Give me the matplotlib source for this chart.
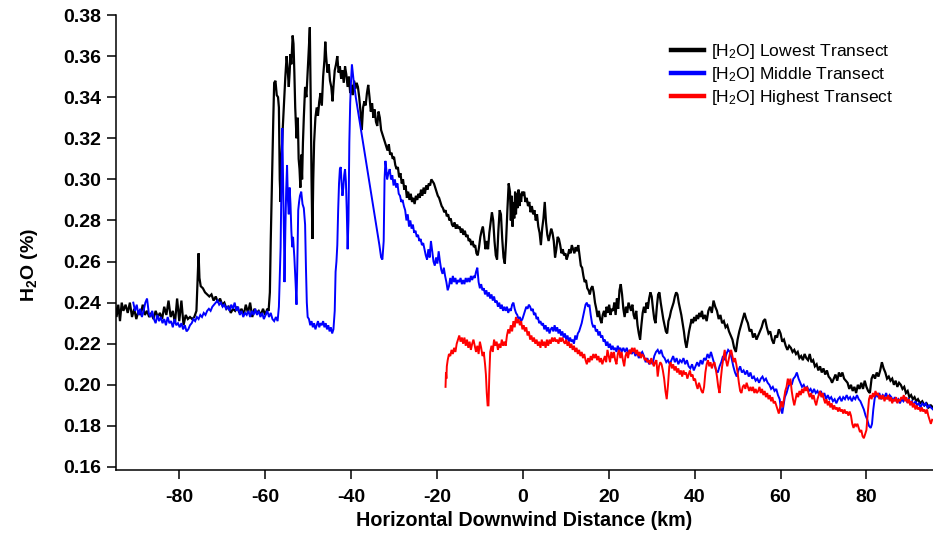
import matplotlib
matplotlib.use("Agg")
import matplotlib.pyplot as plt
from matplotlib.lines import Line2D

plt.rcParams['font.family'] = ['Liberation Sans', 'DejaVu Sans']
plt.rcParams['mathtext.default'] = 'regular'

# ---------------- data ----------------
LOWEST = [
    (-95.0,0.240),(-94.6,0.233),(-94.2,0.239),(-93.8,0.231),(-93.4,0.240),(-93.0,0.236),
    (-92.5,0.239),(-92.0,0.235),(-91.5,0.240),(-91.0,0.233),(-90.5,0.237),(-90.0,0.232),
    (-89.5,0.236),(-89.0,0.234),(-88.5,0.239),(-88.0,0.234),(-87.5,0.236),(-87.0,0.233),
    (-86.5,0.235),(-86.0,0.232),(-85.5,0.236),(-85.0,0.233),(-84.5,0.235),(-84.0,0.232),
    (-83.5,0.238),(-83.0,0.234),(-82.5,0.241),(-82.0,0.233),(-81.5,0.236),(-81.0,0.230),
    (-80.5,0.242),(-80.0,0.231),(-79.5,0.241),(-79.0,0.229),(-78.5,0.234),(-78.0,0.232),
    (-77.5,0.233),(-77.0,0.232),(-76.5,0.233),(-76.0,0.236),(-75.7,0.252),(-75.5,0.264),
    (-75.3,0.252),(-75.0,0.248),(-74.5,0.247),(-74.0,0.245),(-73.5,0.244),(-73.0,0.243),
    (-72.5,0.244),(-72.0,0.241),(-71.5,0.243),(-71.0,0.240),(-70.5,0.242),(-70.0,0.239),
    (-69.5,0.240),(-69.0,0.237),(-68.5,0.238),(-68.0,0.235),(-67.5,0.237),(-67.0,0.236),
    (-66.5,0.238),(-66.0,0.235),(-65.5,0.237),(-65.0,0.234),(-64.5,0.239),(-64.0,0.235),
    (-63.5,0.240),(-63.0,0.233),(-62.5,0.237),(-62.0,0.235),(-61.5,0.236),(-61.0,0.234),
    (-60.5,0.237),(-60.0,0.234),(-59.5,0.237),(-59.2,0.236),
    (-58.9,0.245),(-58.7,0.270),(-58.4,0.300),(-58.1,0.330),(-57.9,0.347),(-57.6,0.348),
    (-57.3,0.341),(-57.0,0.340),(-56.8,0.335),(-56.6,0.300),(-56.4,0.289),(-56.2,0.310),
    (-55.9,0.325),(-55.6,0.338),(-55.3,0.350),(-55.0,0.360),(-54.8,0.355),(-54.5,0.345),
    (-54.3,0.352),(-54.1,0.361),(-53.9,0.356),(-53.6,0.370),(-53.4,0.366),(-53.2,0.352),
    (-53.0,0.335),(-52.7,0.320),(-52.4,0.330),(-52.2,0.310),(-52.0,0.305),(-51.8,0.296),
    (-51.6,0.312),(-51.4,0.300),(-51.2,0.318),(-51.0,0.330),(-50.7,0.345),(-50.4,0.340),
    (-50.1,0.352),(-49.8,0.365),(-49.6,0.374),(-49.4,0.340),(-49.2,0.300),(-49.0,0.271),
    (-48.8,0.300),(-48.6,0.318),(-48.3,0.330),(-48.0,0.335),(-47.7,0.331),(-47.4,0.338),
    (-47.1,0.342),(-46.8,0.336),(-46.5,0.350),(-46.2,0.358),(-46.0,0.367),(-45.8,0.360),
    (-45.5,0.352),(-45.2,0.356),(-44.9,0.348),(-44.6,0.345),(-44.3,0.338),(-44.1,0.345),
    (-43.8,0.353),(-43.5,0.356),(-43.2,0.360),(-42.9,0.352),(-42.6,0.355),(-42.3,0.349),
    (-42.0,0.353),(-41.7,0.347),(-41.4,0.355),(-41.1,0.351),(-40.8,0.345),(-40.5,0.350),
    (-40.2,0.342),(-39.9,0.346),(-39.6,0.341),(-39.3,0.348),(-39.0,0.344),(-38.7,0.347),
    (-38.4,0.345),(-38.1,0.340),(-37.8,0.333),(-37.5,0.324),(-37.2,0.335),(-36.9,0.338),
    (-36.6,0.336),(-36.3,0.342),(-36.0,0.346),(-35.7,0.340),(-35.4,0.333),(-35.1,0.337),
    (-34.8,0.330),(-34.5,0.334),(-34.2,0.328),(-33.9,0.326),(-33.6,0.333),(-33.3,0.330),
    (-33.0,0.324),(-32.7,0.322),(-32.4,0.320),(-32.1,0.318),(-31.8,0.316),(-31.5,0.314),
    (-31.2,0.317),(-30.9,0.312),(-30.6,0.313),(-30.3,0.310),(-30.0,0.311),(-29.7,0.307),
    (-29.4,0.305),(-29.1,0.306),(-28.8,0.301),(-28.5,0.303),(-28.2,0.298),(-27.9,0.300),
    (-27.6,0.295),(-27.3,0.297),(-27.0,0.291),(-26.7,0.294),(-26.4,0.290),(-26.1,0.293),
    (-25.8,0.289),(-25.5,0.291),(-25.2,0.288),(-24.9,0.292),(-24.6,0.290),(-24.3,0.293),
    (-24.0,0.291),(-23.7,0.295),(-23.4,0.292),(-23.1,0.296),(-22.8,0.293),(-22.5,0.297),
    (-22.2,0.295),(-21.9,0.298),(-21.6,0.297),(-21.3,0.300),(-21.0,0.299),(-20.7,0.298),
    (-20.4,0.296),(-20.1,0.294),(-19.8,0.292),(-19.5,0.291),(-19.2,0.289),(-18.9,0.287),
    (-18.6,0.286),(-18.3,0.284),(-18.0,0.285),(-17.7,0.282),(-17.4,0.283),(-17.1,0.280),
    (-16.8,0.281),(-16.5,0.278),(-16.2,0.277),(-15.9,0.279),(-15.6,0.276),(-15.3,0.278),
    (-15.0,0.276),(-14.7,0.277),(-14.4,0.274),(-14.1,0.276),(-13.8,0.273),(-13.5,0.275),
    (-13.2,0.272),(-12.9,0.273),(-12.6,0.270),(-12.3,0.271),(-12.0,0.268),(-11.7,0.270),
    (-11.4,0.267),(-11.1,0.268),(-10.8,0.264),(-10.5,0.263),(-10.2,0.267),(-9.9,0.272),
    (-9.6,0.275),(-9.3,0.277),(-9.0,0.272),(-8.7,0.266),(-8.4,0.270),(-8.1,0.266),
    (-7.8,0.274),(-7.5,0.279),(-7.2,0.284),(-6.9,0.280),(-6.6,0.270),(-6.3,0.263),
    (-6.0,0.261),(-5.7,0.275),(-5.4,0.285),(-5.1,0.283),(-4.8,0.271),(-4.5,0.262),
    (-4.2,0.259),(-3.9,0.270),(-3.6,0.285),(-3.3,0.298),(-3.0,0.294),(-2.8,0.280),
    (-2.6,0.292),(-2.4,0.277),(-2.2,0.289),(-2.0,0.281),(-1.8,0.294),(-1.6,0.283),
    (-1.4,0.293),(-1.2,0.286),(-1.0,0.295),(-0.8,0.287),(-0.6,0.293),(-0.4,0.289),
    (-0.2,0.294),(0.0,0.292),(0.3,0.294),(0.6,0.289),(0.9,0.291),(1.2,0.287),
    (1.5,0.289),(1.8,0.284),(2.1,0.287),(2.4,0.283),(2.7,0.285),(3.0,0.280),
    (3.3,0.283),(3.6,0.277),(3.9,0.274),(4.2,0.268),(4.5,0.276),(4.8,0.281),
    (5.1,0.289),(5.4,0.279),(5.7,0.273),(6.0,0.270),(6.3,0.273),(6.6,0.276),
    (6.9,0.274),(7.2,0.270),(7.5,0.262),(7.8,0.266),(8.1,0.272),(8.4,0.271),
    (8.7,0.268),(9.0,0.264),(9.3,0.266),(9.6,0.263),(9.9,0.264),(10.2,0.261),
    (10.5,0.263),(10.8,0.266),(11.1,0.264),(11.4,0.268),(11.7,0.266),(12.0,0.264),
    (12.3,0.267),(12.6,0.265),(12.9,0.268),(13.2,0.263),(13.5,0.258),(13.8,0.257),
    (14.1,0.253),(14.4,0.250),(14.7,0.251),(15.0,0.247),(15.3,0.246),(15.6,0.244),
    (15.9,0.247),(16.2,0.248),(16.5,0.245),(16.8,0.240),(17.1,0.237),(17.4,0.233),
    (17.7,0.236),(18.0,0.232),(18.3,0.230),(18.6,0.234),(18.9,0.236),(19.2,0.233),
    (19.5,0.238),(19.8,0.235),(20.1,0.239),(20.4,0.234),(20.7,0.237),(21.0,0.236),
    (21.3,0.240),(21.6,0.234),(21.9,0.242),(22.2,0.237),(22.5,0.246),(22.8,0.249),
    (23.1,0.244),(23.4,0.237),(23.7,0.233),(24.0,0.238),(24.3,0.235),(24.6,0.240),
    (24.9,0.238),(25.2,0.236),(25.5,0.239),(25.8,0.234),(26.1,0.232),(26.4,0.236),
    (26.7,0.229),(27.0,0.225),(27.3,0.222),(27.6,0.229),(27.9,0.235),(28.2,0.238),
    (28.5,0.235),(28.8,0.240),(29.1,0.237),(29.4,0.242),(29.7,0.245),(30.0,0.243),
    (30.3,0.237),(30.6,0.232),(30.9,0.230),(31.2,0.238),(31.5,0.244),(31.8,0.245),
    (32.1,0.240),(32.4,0.236),(32.7,0.232),(33.0,0.229),(33.3,0.226),(33.6,0.225),
    (33.9,0.231),(34.2,0.233),(34.5,0.236),(34.8,0.238),(35.1,0.240),(35.4,0.243),
    (35.7,0.245),(36.0,0.244),(36.3,0.240),(36.6,0.237),(36.9,0.234),(37.2,0.230),
    (37.5,0.226),(37.8,0.221),(38.1,0.218),(38.4,0.222),(38.7,0.226),(39.0,0.229),
    (39.3,0.232),(39.6,0.230),(39.9,0.233),(40.2,0.231),(40.5,0.234),(40.8,0.232),
    (41.1,0.235),(41.4,0.233),(41.7,0.236),(42.0,0.232),(42.4,0.234),(42.8,0.231),
    (43.2,0.236),(43.6,0.238),(44.0,0.235),(44.4,0.241),(44.8,0.238),(45.2,0.236),
    (45.6,0.232),(46.0,0.234),(46.4,0.230),(46.8,0.231),(47.2,0.228),(47.6,0.229),
    (48.0,0.226),(48.4,0.224),(48.8,0.222),(49.2,0.218),(49.6,0.216),(50.0,0.222),
    (50.4,0.226),(50.8,0.229),(51.2,0.232),(51.6,0.235),(52.0,0.232),(52.4,0.230),
    (52.8,0.226),(53.2,0.227),(53.6,0.223),(54.0,0.225),(54.4,0.222),(54.8,0.224),
    (55.2,0.226),(55.6,0.228),(56.0,0.231),(56.4,0.232),(56.8,0.228),(57.2,0.225),
    (57.6,0.226),(58.0,0.222),(58.4,0.220),(58.8,0.224),(59.2,0.223),(59.6,0.227),
    (60.0,0.225),(60.4,0.221),(60.8,0.222),(61.2,0.219),(61.6,0.217),(62.0,0.219),
    (62.4,0.218),(62.8,0.216),(63.2,0.217),(63.6,0.215),(64.0,0.216),(64.4,0.213),
    (64.8,0.214),(65.2,0.212),(65.6,0.215),(66.0,0.213),(66.4,0.212),(66.8,0.215),
    (67.2,0.211),(67.6,0.212),(68.0,0.209),(68.4,0.210),(68.8,0.207),(69.2,0.209),
    (69.6,0.206),(70.0,0.208),(70.4,0.205),(70.8,0.207),(71.2,0.204),(71.6,0.203),
    (72.0,0.201),(72.4,0.203),(72.8,0.205),(73.2,0.202),(73.6,0.206),(74.0,0.204),
    (74.4,0.206),(74.8,0.203),(75.2,0.202),(75.6,0.201),(76.0,0.198),(76.4,0.200),
    (76.8,0.197),(77.2,0.199),(77.6,0.196),(78.0,0.200),(78.4,0.198),(78.8,0.201),
    (79.2,0.198),(79.6,0.202),(80.0,0.199),(80.4,0.197),(80.8,0.196),(81.2,0.203),
    (81.6,0.205),(82.0,0.203),(82.4,0.206),(82.8,0.204),(83.2,0.207),(83.6,0.211),
    (84.0,0.208),(84.4,0.206),(84.8,0.203),(85.2,0.204),(85.6,0.202),(86.0,0.203),
    (86.4,0.200),(86.8,0.202),(87.2,0.199),(87.6,0.201),(88.0,0.200),(88.4,0.198),
    (88.8,0.199),(89.2,0.196),(89.6,0.197),(90.0,0.194),(90.4,0.195),(90.8,0.193),
    (91.2,0.194),(91.6,0.192),(92.0,0.193),(92.5,0.191),(93.0,0.192),(93.5,0.190),
    (94.0,0.191),(94.5,0.189),(95.0,0.190),(95.5,0.189),
]

MIDDLE = [
    (-90.7,0.240),(-90.3,0.236),(-89.9,0.239),(-89.5,0.234),(-89.1,0.237),(-88.7,0.233),
    (-88.3,0.236),(-87.9,0.240),(-87.5,0.242),(-87.1,0.235),(-86.7,0.233),(-86.3,0.236),
    (-85.9,0.232),(-85.5,0.230),(-85.1,0.234),(-84.7,0.231),(-84.3,0.233),(-83.9,0.230),
    (-83.5,0.232),(-83.1,0.229),(-82.7,0.233),(-82.3,0.230),(-81.9,0.231),(-81.5,0.228),
    (-81.1,0.232),(-80.7,0.229),(-80.3,0.230),(-79.9,0.228),(-79.5,0.230),(-79.1,0.227),
    (-78.7,0.229),(-78.3,0.226),(-77.9,0.227),(-77.5,0.229),(-77.1,0.230),(-76.7,0.232),
    (-76.3,0.231),(-75.9,0.233),(-75.5,0.232),(-75.1,0.234),(-74.7,0.233),(-74.3,0.235),
    (-73.9,0.234),(-73.5,0.236),(-73.1,0.237),(-72.7,0.236),(-72.3,0.238),(-71.9,0.239),
    (-71.5,0.240),(-71.1,0.241),(-70.7,0.239),(-70.3,0.240),(-69.9,0.238),(-69.5,0.239),
    (-69.1,0.237),(-68.7,0.238),(-68.3,0.236),(-67.9,0.239),(-67.5,0.237),(-67.1,0.240),
    (-66.7,0.236),(-66.3,0.238),(-65.9,0.234),(-65.5,0.236),(-65.1,0.233),(-64.7,0.235),
    (-64.3,0.234),(-63.9,0.236),(-63.5,0.233),(-63.1,0.236),(-62.7,0.234),(-62.3,0.237),
    (-61.9,0.234),(-61.5,0.236),(-61.1,0.233),(-60.7,0.235),(-60.3,0.232),(-59.9,0.234),
    (-59.5,0.236),(-59.1,0.233),(-58.7,0.235),(-58.3,0.232),(-57.9,0.231),(-57.5,0.233),
    (-57.1,0.231),(-56.8,0.238),(-56.6,0.252),(-56.4,0.267),(-56.2,0.300),(-56.0,0.325),
    (-55.9,0.310),(-55.8,0.296),(-55.6,0.270),(-55.5,0.250),(-55.3,0.275),(-55.1,0.295),
    (-54.9,0.307),(-54.7,0.290),(-54.5,0.283),(-54.3,0.296),(-54.1,0.288),(-53.9,0.275),
    (-53.7,0.267),(-53.5,0.272),(-53.2,0.262),(-52.9,0.249),(-52.7,0.239),(-52.5,0.260),
    (-52.3,0.285),(-52.1,0.289),(-51.9,0.292),(-51.6,0.294),(-51.3,0.288),(-51.0,0.286),
    (-50.7,0.278),(-50.5,0.257),(-50.3,0.240),(-50.1,0.233),(-49.8,0.232),(-49.5,0.229),
    (-49.2,0.231),(-48.9,0.228),(-48.6,0.230),(-48.3,0.227),(-48.0,0.229),(-47.7,0.231),
    (-47.4,0.228),(-47.1,0.230),(-46.8,0.229),(-46.5,0.231),(-46.2,0.228),(-45.9,0.230),
    (-45.6,0.227),(-45.3,0.229),(-45.0,0.226),(-44.7,0.228),(-44.4,0.225),(-44.1,0.227),
    (-43.8,0.236),(-43.6,0.255),(-43.4,0.260),(-43.2,0.268),(-43.0,0.285),(-42.8,0.298),
    (-42.6,0.305),(-42.4,0.306),(-42.2,0.298),(-42.0,0.292),(-41.8,0.296),(-41.6,0.302),
    (-41.4,0.305),(-41.2,0.299),(-41.0,0.285),(-40.8,0.266),(-40.6,0.280),(-40.4,0.318),
    (-40.2,0.337),(-40.0,0.348),(-39.8,0.356),(-39.6,0.352),(-39.4,0.348),(-39.2,0.345),
    (-38.9,0.340),(-33.4,0.268),(-33.0,0.262),(-32.7,0.261),(-32.4,0.270),(-32.2,0.300),
    (-32.0,0.309),(-31.8,0.305),(-31.6,0.300),(-31.3,0.303),(-31.0,0.305),(-30.7,0.300),
    (-30.4,0.302),(-30.1,0.297),(-29.8,0.300),(-29.5,0.296),(-29.2,0.298),(-28.9,0.293),
    (-28.6,0.292),(-28.3,0.289),(-28.0,0.290),(-27.7,0.287),(-27.4,0.285),(-27.1,0.280),
    (-26.8,0.283),(-26.5,0.277),(-26.2,0.280),(-25.9,0.276),(-25.6,0.278),(-25.3,0.274),
    (-25.0,0.275),(-24.7,0.272),(-24.4,0.273),(-24.1,0.270),(-23.8,0.271),(-23.5,0.268),
    (-23.2,0.269),(-22.9,0.266),(-22.6,0.263),(-22.3,0.261),(-22.0,0.266),(-21.7,0.262),
    (-21.4,0.270),(-21.1,0.265),(-20.8,0.260),(-20.5,0.258),(-20.2,0.262),(-19.9,0.259),
    (-19.6,0.265),(-19.3,0.260),(-19.0,0.256),(-18.7,0.254),(-18.4,0.257),(-18.1,0.253),
    (-17.8,0.250),(-17.5,0.246),(-17.2,0.248),(-16.9,0.252),(-16.6,0.249),(-16.3,0.253),
    (-16.0,0.250),(-15.7,0.252),(-15.4,0.249),(-15.1,0.251),(-14.8,0.250),(-14.5,0.252),
    (-14.2,0.249),(-13.9,0.251),(-13.6,0.249),(-13.3,0.252),(-13.0,0.250),(-12.7,0.252),
    (-12.4,0.250),(-12.1,0.253),(-11.8,0.251),(-11.5,0.253),(-11.2,0.252),(-10.9,0.255),
    (-10.6,0.257),(-10.3,0.250),(-10.0,0.247),(-9.7,0.249),(-9.4,0.246),(-9.1,0.247),
    (-8.8,0.244),(-8.5,0.246),(-8.2,0.243),(-7.9,0.245),(-7.6,0.242),(-7.3,0.244),
    (-7.0,0.241),(-6.7,0.243),(-6.4,0.240),(-6.1,0.241),(-5.8,0.238),(-5.5,0.240),
    (-5.2,0.237),(-4.9,0.239),(-4.6,0.236),(-4.3,0.238),(-4.0,0.236),(-3.7,0.238),
    (-3.4,0.235),(-3.1,0.237),(-2.8,0.236),(-2.5,0.239),(-2.2,0.240),(-1.9,0.237),
    (-1.6,0.235),(-1.3,0.234),(-1.0,0.232),(-0.7,0.233),(-0.4,0.231),(-0.1,0.232),
    (0.2,0.234),(0.5,0.236),(0.8,0.238),(1.1,0.237),(1.4,0.239),(1.7,0.238),
    (2.0,0.236),(2.3,0.237),(2.6,0.234),(2.9,0.235),(3.2,0.232),(3.5,0.233),
    (3.8,0.230),(4.1,0.231),(4.4,0.229),(4.7,0.230),(5.0,0.227),(5.3,0.229),
    (5.6,0.226),(5.9,0.228),(6.2,0.225),(6.5,0.227),(6.8,0.228),(7.1,0.226),
    (7.4,0.229),(7.7,0.226),(8.0,0.228),(8.3,0.225),(8.6,0.227),(8.9,0.224),
    (9.2,0.226),(9.5,0.223),(9.8,0.225),(10.1,0.222),(10.4,0.224),(10.7,0.221),
    (11.0,0.223),(11.3,0.221),(11.6,0.222),(11.9,0.220),(12.2,0.224),(12.5,0.222),
    (12.8,0.225),(13.1,0.226),(13.4,0.228),(13.7,0.230),(14.0,0.233),(14.3,0.236),
    (14.6,0.239),(14.9,0.240),(15.2,0.238),(15.5,0.239),(15.8,0.234),(16.1,0.230),
    (16.4,0.228),(16.7,0.229),(17.0,0.226),(17.3,0.227),(17.6,0.224),(17.9,0.226),
    (18.2,0.223),(18.5,0.224),(18.8,0.221),(19.1,0.222),(19.4,0.219),(19.7,0.221),
    (20.0,0.218),(20.3,0.220),(20.6,0.217),(20.9,0.219),(21.2,0.217),(21.5,0.218),
    (21.8,0.216),(22.1,0.219),(22.4,0.217),(22.7,0.218),(23.0,0.216),(23.4,0.218),
    (23.8,0.216),(24.2,0.218),(24.6,0.215),(25.0,0.217),(25.4,0.215),(25.8,0.217),
    (26.2,0.214),(26.6,0.216),(27.0,0.213),(27.4,0.215),(27.8,0.216),(28.2,0.214),
    (28.6,0.211),(29.0,0.213),(29.4,0.210),(29.8,0.212),(30.2,0.210),(30.6,0.214),
    (31.0,0.216),(31.4,0.217),(31.8,0.215),(32.2,0.217),(32.6,0.214),(33.0,0.213),
    (33.4,0.211),(33.8,0.212),(34.2,0.210),(34.6,0.212),(35.0,0.214),(35.4,0.211),
    (35.8,0.213),(36.2,0.210),(36.6,0.212),(37.0,0.211),(37.4,0.213),(37.8,0.210),
    (38.2,0.212),(38.6,0.209),(39.0,0.208),(39.4,0.210),(39.8,0.207),(40.2,0.209),
    (40.6,0.211),(41.0,0.209),(41.4,0.212),(41.8,0.210),(42.2,0.213),(42.6,0.212),
    (43.0,0.215),(43.4,0.213),(43.8,0.216),(44.2,0.213),(44.6,0.210),(45.0,0.207),
    (45.4,0.206),(45.8,0.209),(46.2,0.211),(46.6,0.214),(47.0,0.212),(47.4,0.215),
    (47.8,0.217),(48.2,0.216),(48.6,0.213),(49.0,0.209),(49.4,0.206),(49.8,0.204),
    (50.2,0.207),(50.6,0.209),(51.0,0.206),(51.4,0.207),(51.8,0.205),(52.2,0.207),
    (52.6,0.204),(53.0,0.206),(53.4,0.203),(53.8,0.204),(54.2,0.202),(54.6,0.203),
    (55.0,0.201),(55.4,0.203),(55.8,0.204),(56.2,0.202),(56.6,0.203),(57.0,0.201),
    (57.4,0.200),(57.8,0.198),(58.2,0.199),(58.6,0.197),(59.0,0.198),(59.4,0.195),
    (59.8,0.193),(60.1,0.188),(60.4,0.186),(60.7,0.190),(61.0,0.194),(61.4,0.196),
    (61.8,0.199),(62.2,0.201),(62.6,0.200),(63.0,0.203),(63.4,0.204),(63.8,0.206),
    (64.2,0.203),(64.6,0.201),(65.0,0.199),(65.4,0.200),(65.8,0.198),(66.2,0.199),
    (66.6,0.197),(67.0,0.198),(67.4,0.196),(67.8,0.198),(68.2,0.196),(68.6,0.197),
    (69.0,0.195),(69.4,0.197),(69.8,0.194),(70.2,0.196),(70.6,0.193),(71.0,0.195),
    (71.4,0.193),(71.8,0.194),(72.2,0.192),(72.6,0.193),(73.0,0.191),(73.4,0.193),
    (73.8,0.194),(74.2,0.192),(74.6,0.194),(75.0,0.193),(75.4,0.195),(75.8,0.193),
    (76.2,0.194),(76.6,0.192),(77.0,0.194),(77.4,0.193),(77.8,0.195),(78.2,0.193),
    (78.6,0.192),(79.0,0.190),(79.4,0.188),(79.8,0.185),(80.2,0.183),(80.6,0.180),
    (81.0,0.179),(81.3,0.181),(81.6,0.188),(81.9,0.193),(82.2,0.196),(82.6,0.194),
    (83.0,0.196),(83.4,0.193),(83.8,0.195),(84.2,0.194),(84.6,0.196),(85.0,0.193),
    (85.4,0.195),(85.8,0.194),(86.2,0.192),(86.6,0.194),(87.0,0.192),(87.4,0.193),
    (87.8,0.191),(88.2,0.193),(88.6,0.192),(89.0,0.194),(89.4,0.192),(89.8,0.193),
    (90.2,0.191),(90.6,0.192),(91.0,0.190),(91.4,0.192),(91.8,0.190),(92.2,0.191),
    (92.6,0.189),(93.0,0.191),(93.4,0.190),(93.8,0.191),(94.2,0.189),(94.6,0.190),
    (95.0,0.189),(95.5,0.188),
]

HIGHEST = [
    (-18.0,0.199),(-17.9,0.206),(-17.8,0.203),(-17.7,0.209),(-17.5,0.212),(-17.2,0.215),
    (-16.9,0.214),(-16.6,0.217),(-16.3,0.215),(-16.0,0.218),(-15.7,0.216),(-15.4,0.220),
    (-15.1,0.222),(-14.8,0.224),(-14.5,0.221),(-14.2,0.223),(-13.9,0.220),(-13.6,0.223),
    (-13.3,0.219),(-13.0,0.222),(-12.7,0.218),(-12.4,0.221),(-12.1,0.217),(-11.8,0.220),
    (-11.5,0.222),(-11.2,0.219),(-10.9,0.216),(-10.6,0.219),(-10.3,0.215),(-10.0,0.221),
    (-9.7,0.218),(-9.4,0.214),(-9.1,0.216),(-8.8,0.210),(-8.6,0.205),(-8.4,0.196),
    (-8.2,0.190),(-8.0,0.190),(-7.8,0.205),(-7.6,0.216),(-7.3,0.219),(-7.0,0.216),
    (-6.7,0.222),(-6.4,0.219),(-6.1,0.221),(-5.8,0.217),(-5.5,0.220),(-5.2,0.218),
    (-4.9,0.222),(-4.6,0.219),(-4.3,0.221),(-4.0,0.219),(-3.7,0.224),(-3.4,0.227),
    (-3.1,0.225),(-2.8,0.229),(-2.5,0.226),(-2.2,0.231),(-1.9,0.228),(-1.6,0.233),
    (-1.3,0.230),(-1.0,0.232),(-0.7,0.229),(-0.4,0.231),(-0.1,0.227),(0.2,0.229),
    (0.5,0.226),(0.8,0.228),(1.1,0.224),(1.4,0.226),(1.7,0.222),(2.0,0.224),
    (2.3,0.221),(2.6,0.223),(2.9,0.220),(3.2,0.222),(3.5,0.219),(3.8,0.221),
    (4.1,0.218),(4.4,0.222),(4.7,0.219),(5.0,0.221),(5.3,0.218),(5.6,0.222),
    (5.9,0.219),(6.2,0.222),(6.5,0.220),(6.8,0.223),(7.1,0.221),(7.4,0.223),
    (7.7,0.221),(8.0,0.222),(8.3,0.220),(8.6,0.223),(8.9,0.221),(9.2,0.223),
    (9.5,0.221),(9.8,0.220),(10.1,0.222),(10.4,0.219),(10.7,0.221),(11.0,0.218),
    (11.3,0.220),(11.6,0.217),(11.9,0.219),(12.2,0.216),(12.5,0.218),(12.8,0.215),
    (13.1,0.217),(13.4,0.214),(13.7,0.216),(14.0,0.213),(14.3,0.215),(14.6,0.212),
    (14.9,0.210),(15.2,0.213),(15.5,0.211),(15.8,0.214),(16.1,0.212),(16.4,0.215),
    (16.7,0.213),(17.0,0.215),(17.3,0.212),(17.6,0.214),(17.9,0.211),(18.2,0.213),
    (18.5,0.210),(18.8,0.212),(19.1,0.214),(19.4,0.211),(19.7,0.217),(20.0,0.214),
    (20.3,0.211),(20.6,0.216),(20.9,0.213),(21.2,0.216),(21.5,0.212),(21.8,0.210),
    (22.1,0.215),(22.4,0.217),(22.7,0.213),(23.0,0.216),(23.3,0.212),(23.6,0.209),
    (23.9,0.214),(24.2,0.216),(24.5,0.213),(24.8,0.217),(25.1,0.215),(25.4,0.218),
    (25.7,0.216),(26.0,0.218),(26.3,0.215),(26.6,0.217),(26.9,0.214),(27.2,0.216),
    (27.5,0.213),(27.8,0.215),(28.1,0.214),(28.4,0.212),(28.7,0.213),(29.0,0.211),
    (29.3,0.212),(29.6,0.210),(29.9,0.213),(30.2,0.211),(30.5,0.209),(30.8,0.211),
    (31.1,0.212),(31.4,0.204),(31.7,0.209),(32.0,0.211),(32.3,0.210),(32.6,0.207),
    (32.9,0.203),(33.2,0.197),(33.5,0.193),(33.8,0.200),(34.1,0.209),(34.4,0.211),
    (34.7,0.208),(35.0,0.210),(35.3,0.207),(35.6,0.209),(35.9,0.206),(36.2,0.208),
    (36.5,0.205),(36.8,0.207),(37.1,0.204),(37.4,0.207),(37.7,0.205),(38.0,0.206),
    (38.3,0.203),(38.6,0.205),(38.9,0.207),(39.2,0.204),(39.5,0.205),(39.8,0.202),
    (40.1,0.203),(40.4,0.200),(40.7,0.198),(41.0,0.201),(41.3,0.199),(41.6,0.197),
    (41.9,0.196),(42.2,0.199),(42.5,0.206),(42.8,0.210),(43.1,0.212),(43.4,0.209),
    (43.7,0.211),(44.0,0.208),(44.3,0.210),(44.6,0.211),(44.9,0.208),(45.2,0.204),
    (45.5,0.199),(45.8,0.196),(46.1,0.203),(46.4,0.209),(46.7,0.213),(47.0,0.217),
    (47.3,0.212),(47.6,0.209),(47.9,0.212),(48.2,0.215),(48.5,0.217),(48.8,0.214),
    (49.1,0.211),(49.4,0.213),(49.7,0.210),(50.0,0.206),(50.3,0.201),(50.6,0.197),
    (50.9,0.196),(51.2,0.199),(51.5,0.200),(51.8,0.198),(52.1,0.201),(52.4,0.199),
    (52.7,0.197),(53.0,0.199),(53.3,0.197),(53.6,0.199),(53.9,0.196),(54.2,0.198),
    (54.5,0.196),(54.8,0.197),(55.1,0.199),(55.4,0.196),(55.7,0.198),(56.0,0.195),
    (56.3,0.197),(56.6,0.194),(56.9,0.196),(57.2,0.193),(57.5,0.195),(57.8,0.192),
    (58.1,0.194),(58.4,0.191),(58.7,0.192),(59.0,0.190),(59.3,0.188),(59.6,0.186),
    (59.9,0.189),(60.2,0.192),(60.5,0.189),(60.8,0.193),(61.1,0.197),(61.4,0.199),
    (61.7,0.203),(62.0,0.200),(62.3,0.203),(62.6,0.197),(62.9,0.193),(63.2,0.190),
    (63.5,0.193),(63.8,0.196),(64.1,0.194),(64.4,0.197),(64.7,0.195),(65.0,0.198),
    (65.3,0.196),(65.6,0.199),(65.9,0.197),(66.2,0.199),(66.5,0.196),(66.8,0.194),
    (67.1,0.196),(67.4,0.193),(67.7,0.195),(68.0,0.192),(68.3,0.190),(68.6,0.193),
    (68.9,0.195),(69.2,0.197),(69.5,0.194),(69.8,0.196),(70.1,0.193),(70.4,0.191),
    (70.7,0.193),(71.0,0.190),(71.3,0.192),(71.6,0.189),(71.9,0.191),(72.2,0.188),
    (72.5,0.190),(72.8,0.188),(73.1,0.189),(73.4,0.187),(73.7,0.189),(74.0,0.187),
    (74.3,0.188),(74.6,0.186),(74.9,0.188),(75.2,0.186),(75.5,0.187),(75.8,0.185),
    (76.1,0.187),(76.4,0.185),(76.7,0.181),(77.0,0.179),(77.3,0.181),(77.6,0.180),
    (77.9,0.181),(78.2,0.179),(78.5,0.177),(78.8,0.178),(79.1,0.175),(79.4,0.174),
    (79.7,0.176),(80.0,0.178),(80.3,0.186),(80.6,0.193),(80.9,0.195),(81.2,0.193),
    (81.5,0.196),(81.8,0.194),(82.1,0.197),(82.4,0.195),(82.7,0.196),(83.0,0.193),
    (83.3,0.195),(83.6,0.193),(83.9,0.195),(84.2,0.192),(84.5,0.194),(84.8,0.193),
    (85.1,0.195),(85.4,0.192),(85.7,0.194),(86.0,0.191),(86.3,0.193),(86.6,0.192),
    (86.9,0.194),(87.2,0.191),(87.5,0.193),(87.8,0.192),(88.1,0.194),(88.4,0.193),
    (88.7,0.195),(89.0,0.192),(89.3,0.194),(89.6,0.191),(89.9,0.193),(90.2,0.190),
    (90.5,0.192),(90.8,0.189),(91.1,0.191),(91.4,0.188),(91.7,0.190),(92.0,0.188),
    (92.3,0.189),(92.6,0.187),(92.9,0.189),(93.2,0.187),(93.5,0.188),(93.8,0.186),
    (94.1,0.188),(94.4,0.185),(94.7,0.183),(95.0,0.181),(95.3,0.183),
]

series_labels = ["[H$_2$O] Lowest Transect",
                 "[H$_2$O] Middle Transect",
                 "[H$_2$O] Highest Transect"]
series_colors = ["#000000", "#0000ff", "#ff0000"]
x_ticks = [-80, -60, -40, -20, 0, 20, 40, 60, 80]
y_ticks = [0.16, 0.18, 0.20, 0.22, 0.24, 0.26, 0.28, 0.30, 0.32, 0.34, 0.36, 0.38]

# ---------------- figure ----------------
fig = plt.figure(figsize=(9.33, 5.36), dpi=100)
ax = fig.add_axes([0.124, 0.123, 0.876, 0.849])

for data, col, lw in zip([LOWEST, MIDDLE, HIGHEST], series_colors, [1.6, 1.4, 1.4]):
    xs = [p[0] for p in data]
    ys = [p[1] for p in data]
    ax.plot(xs, ys, color=col, lw=lw, solid_joinstyle='miter')

ax.set_xlim(-94.8, 95.5)
ax.set_ylim(0.1585, 0.38)
ax.set_xticks(x_ticks)
ax.set_yticks(y_ticks)
ax.set_xticklabels([str(t) for t in x_ticks])
ax.set_yticklabels([f"{t:.2f}" for t in y_ticks])

for s in ['top', 'right']:
    ax.spines[s].set_visible(False)
for s in ['left', 'bottom']:
    ax.spines[s].set_linewidth(1.1)
ax.tick_params(axis='both', direction='out', length=6.5, width=1.1, labelsize=14)
ax.tick_params(axis='x', pad=7)
ax.tick_params(axis='y', pad=4)
for lab in ax.get_xticklabels() + ax.get_yticklabels():
    lab.set_fontweight('bold')

ax.set_xlabel("Horizontal Downwind Distance (km)", fontsize=14.2, fontweight='bold',
              labelpad=4)
ax.set_ylabel("H$_2$O (%)", fontsize=14, fontweight='bold')
ax.yaxis.set_label_coords(-0.093, 0.45)

handles = [Line2D([0], [0], color=c, lw=3.2) for c in series_colors]
ax.legend(handles, series_labels, loc='upper left', bbox_to_anchor=(0.671, 0.955),
          frameon=False, fontsize=12.6, handlelength=1.9, handletextpad=0.4,
          labelspacing=0.22, borderaxespad=0)

fig.savefig("out.png", dpi=100)
